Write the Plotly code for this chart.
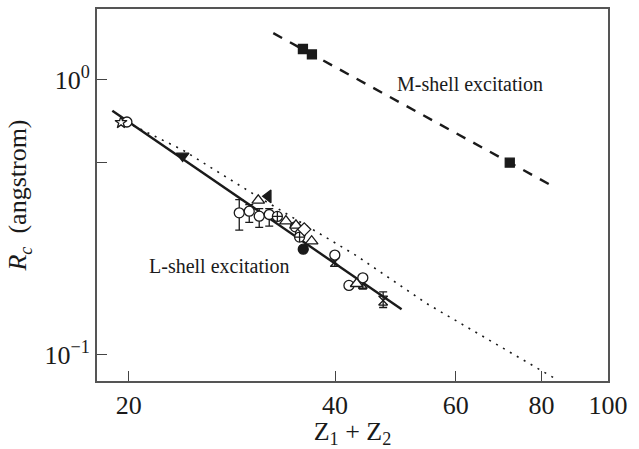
import plotly.graph_objects as go

# ---- data ----
# open circles with error bars
circ_err_x = [28.99, 29.98, 31.0, 32.06]
circ_err_y = [0.3284, 0.3328, 0.3193, 0.3238]
circ_err_up = [0.0383, 0.019, 0.021, 0.0165]
circ_err_dn = [0.0442, 0.0298, 0.0286, 0.030]
# other open circles
circ_x = [19.88, 35.0, 35.6, 39.96, 41.9, 43.9]
circ_y = [0.703, 0.292, 0.276, 0.2305, 0.1787, 0.1905]
# open up-triangles
tri_x = [30.90, 33.91, 35.07, 36.97, 43.0]
tri_y = [0.3645, 0.3062, 0.2955, 0.2588, 0.1812]
# circle with cross
ccross_x = [32.95, 35.5]
ccross_y = [0.3185, 0.268]
# open diamond
dia_x = [36.06]
dia_y = [0.2859]
# filled circle
fcirc_x = [35.94]
fcirc_y = [0.2422]
# filled down triangle
ftri_dn_x = [23.97]
ftri_dn_y = [0.529]
# filled left triangle
ftri_l_x = [31.95]
ftri_l_y = [0.377]
# open star
star_x = [19.49]
star_y = [0.70]
# hourglass markers with error bars
hg_x = [39.96, 43.9, 47.0]
hg_y = [0.2175, 0.1812, 0.1574]
hg_up = [0.008, 0.008, 0.0118]
hg_dn = [0.008, 0.008, 0.0089]
# M-shell squares
sq_x = [35.9, 37.0, 71.9]
sq_y = [1.296, 1.238, 0.50]

# fit lines
lfit_x = [18.93, 50.0]
lfit_y = [0.773, 0.1464]
mfit_x = [32.5, 82.7]
mfit_y = [1.48, 0.413]
# theory (dotted)
theo_x = [19.82, 24.0, 30.35, 42.99, 54.4, 75.2, 84.6]
theo_y = [0.703, 0.555, 0.3855, 0.2291, 0.1535, 0.0954, 0.0806]

x_ticks = [20, 40, 60, 80, 100]
y_ticks = [0.1, 0.5, 1.0]
y_ticktext = ["10<sup>\u22121</sup>", "", "10<sup>0</sup>"]

BLACK = "#1a1a1a"
FONT = "Liberation Serif"

fig = go.Figure()

fig.add_trace(go.Scatter(x=theo_x, y=theo_y, mode="lines",
                         line=dict(color=BLACK, width=1.6, dash="2px,6px")))
fig.add_trace(go.Scatter(x=lfit_x, y=lfit_y, mode="lines",
                         line=dict(color=BLACK, width=2.4)))
fig.add_trace(go.Scatter(x=mfit_x, y=mfit_y, mode="lines",
                         line=dict(color=BLACK, width=2.4, dash="10px,9px")))

def mk(symbol, size, filled):
    return dict(symbol=symbol, size=size,
                color=BLACK if filled else "white",
                line=dict(color=BLACK, width=1.3))

fig.add_trace(go.Scatter(x=circ_err_x, y=circ_err_y, mode="markers",
                         marker=mk("circle", 10, False),
                         error_y=dict(type="data", symmetric=False, array=circ_err_up,
                                      arrayminus=circ_err_dn, color=BLACK,
                                      thickness=1.3, width=4)))
fig.add_trace(go.Scatter(x=hg_x, y=hg_y, mode="markers",
                         marker=dict(symbol="hourglass-open", size=9,
                                     color=BLACK, line=dict(color=BLACK, width=1.3)),
                         error_y=dict(type="data", symmetric=False, array=hg_up,
                                      arrayminus=hg_dn, color=BLACK,
                                      thickness=1.3, width=4)))
fig.add_trace(go.Scatter(x=circ_x, y=circ_y, mode="markers",
                         marker=mk("circle", 10, False)))
fig.add_trace(go.Scatter(x=tri_x, y=tri_y, mode="markers",
                         marker=mk("triangle-up", 11, False)))
fig.add_trace(go.Scatter(x=ccross_x, y=ccross_y, mode="markers",
                         marker=dict(symbol="circle-cross", size=10, color="white",
                                     line=dict(color=BLACK, width=1.3))))
fig.add_trace(go.Scatter(x=dia_x, y=dia_y, mode="markers",
                         marker=mk("diamond", 10, False)))
fig.add_trace(go.Scatter(x=fcirc_x, y=fcirc_y, mode="markers",
                         marker=mk("circle", 10, True)))
fig.add_trace(go.Scatter(x=ftri_dn_x, y=ftri_dn_y, mode="markers",
                         marker=mk("triangle-down", 11, True)))
fig.add_trace(go.Scatter(x=ftri_l_x, y=ftri_l_y, mode="markers",
                         marker=mk("triangle-left", 11, True)))
fig.add_trace(go.Scatter(x=star_x, y=star_y, mode="markers",
                         marker=mk("star", 9, False)))
fig.add_trace(go.Scatter(x=sq_x, y=sq_y, mode="markers",
                         marker=mk("square", 9, True)))

fig.add_annotation(x=0.2407, y=0.3093, xref="paper", yref="paper",
                   xanchor="center", yanchor="middle",
                   text="L-shell excitation", showarrow=False,
                   font=dict(family=FONT, size=20, color=BLACK))
fig.add_annotation(x=0.730, y=0.7987, xref="paper", yref="paper",
                   xanchor="center", yanchor="middle",
                   text="M-shell excitation", showarrow=False,
                   font=dict(family=FONT, size=20, color=BLACK))

axis_common = dict(showline=True, linecolor="#555555", linewidth=2, mirror=True,
                   ticks="inside", ticklen=10, tickwidth=1.3, tickcolor="#444444",
                   showgrid=False, zeroline=False,
                   tickfont=dict(family=FONT, size=26, color=BLACK))

fig.update_xaxes(type="log", range=[1.2548, 2.0], tickvals=x_ticks,
                 ticktext=[str(v) for v in x_ticks],
                 title=dict(text="Z<sub>1</sub> + Z<sub>2</sub>",
                            font=dict(family=FONT, size=26, color=BLACK), standoff=4),
                 **axis_common)
fig.update_yaxes(type="log", range=[-1.0958, 0.2582], tickvals=y_ticks,
                 ticktext=y_ticktext,
                 title=dict(text="<i>R<sub>c</sub></i>  (angstrom)",
                            font=dict(family=FONT, size=26, color=BLACK), standoff=10),
                 **axis_common)

fig.update_layout(width=639, height=449, showlegend=False,
                  margin=dict(l=97, r=31, t=7, b=66),
                  plot_bgcolor="white", paper_bgcolor="white")

fig.write_html("out.html")
